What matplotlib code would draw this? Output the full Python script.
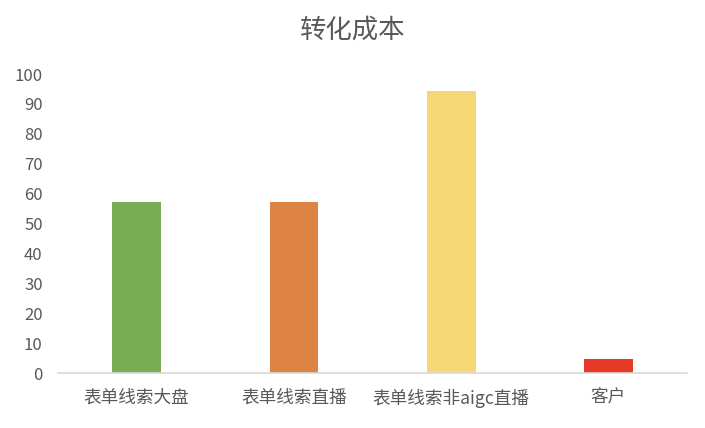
import matplotlib
matplotlib.use('Agg')
from matplotlib import pyplot as plt

plt.rcParams['font.family'] = ['Noto Sans CJK SC', 'DejaVu Sans']

categories = ['表单线索大盘', '表单线索直播', '表单线索非aigc直播', '客户']
values = [57.2, 57.2, 94.4, 4.9]
colors = ['#7aab55', '#dd8444', '#f6d776', '#e63a27']
yticks = list(range(0, 101, 10))

fig = plt.figure(figsize=(7.05, 4.28), dpi=100)
ax = fig.add_axes([0.0823, 0.1278, 0.8922, 0.6993])

ax.bar(range(len(categories)), values, width=0.31, color=colors, zorder=2)

ax.set_xlim(-0.5, len(categories) - 0.5)
ax.set_ylim(0, 100)
ax.set_yticks(yticks)
ax.set_xticks(range(len(categories)))
ax.set_xticklabels(categories)

for s in ['top', 'right', 'left']:
    ax.spines[s].set_visible(False)
ax.spines['bottom'].set_color('#d9d9d9')
ax.spines['bottom'].set_linewidth(1.2)

ax.tick_params(axis='y', length=0, pad=11, labelsize=12, labelcolor='#595959')
ax.tick_params(axis='x', length=0, pad=11, labelsize=12.7, labelcolor='#595959')

fig.text(0.5, 0.93, '转化成本', ha='center', va='center', fontsize=19, color='#595959')

fig.savefig('out.png', dpi=100)
